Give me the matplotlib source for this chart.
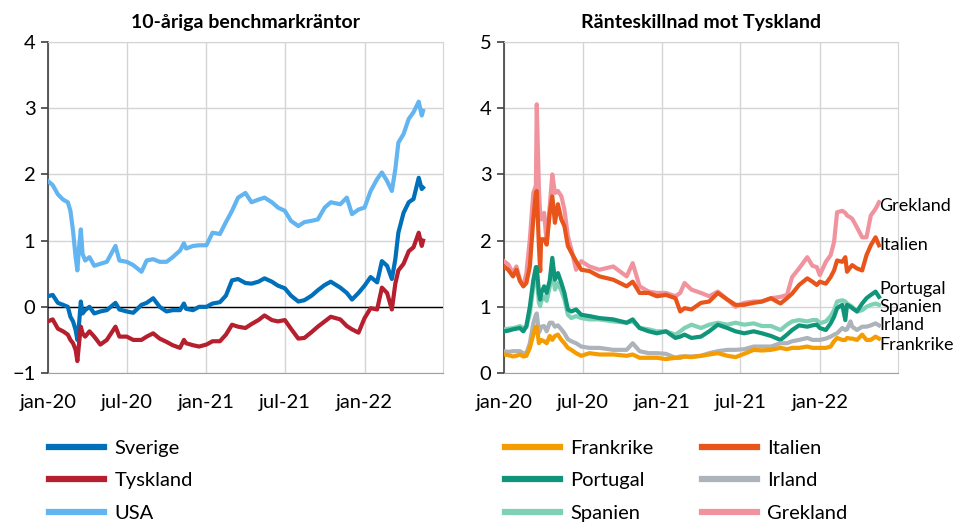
import pandas as pd
import matplotlib
matplotlib.use("Agg")
import matplotlib.pyplot as plt

plt.rcParams['font.family'] = ['Lato', 'DejaVu Sans']

# vänster panel: 10-åriga räntor
left_dates = ['2020-01-01', '2020-01-12', '2020-01-24', '2020-02-05', '2020-02-16', '2020-02-22', '2020-02-28',
              '2020-03-05', '2020-03-09', '2020-03-13', '2020-03-17', '2020-03-21', '2020-03-27', '2020-04-06',
              '2020-04-17', '2020-05-01', '2020-05-16', '2020-06-05', '2020-06-14', '2020-07-01', '2020-07-16',
              '2020-08-04', '2020-08-16', '2020-08-31', '2020-09-15', '2020-10-01', '2020-10-15', '2020-11-01',
              '2020-11-10', '2020-11-15', '2020-12-01', '2020-12-15',
              '2021-01-01', '2021-01-15', '2021-02-01', '2021-02-15', '2021-03-01', '2021-03-15', '2021-04-01',
              '2021-04-15', '2021-05-01', '2021-05-15', '2021-06-01', '2021-06-15', '2021-07-01', '2021-07-15',
              '2021-08-01', '2021-08-15', '2021-09-01', '2021-09-15', '2021-10-01', '2021-10-15', '2021-11-06',
              '2021-11-21', '2021-12-03', '2021-12-18',
              '2022-01-01', '2022-01-15', '2022-01-30', '2022-02-10', '2022-02-22', '2022-03-05', '2022-03-13',
              '2022-03-20', '2022-04-01', '2022-04-13', '2022-04-24', '2022-05-06', '2022-05-13', '2022-05-16']

usa = [1.90, 1.84, 1.70, 1.62, 1.58, 1.45, 1.15, 0.75, 0.55, 0.90, 1.17, 0.80, 0.70, 0.75, 0.62, 0.65,
       0.68, 0.92, 0.70, 0.68, 0.63, 0.53, 0.70, 0.72, 0.68, 0.68, 0.75, 0.85, 0.96, 0.88, 0.92, 0.93,
       0.93, 1.12, 1.10, 1.28, 1.45, 1.65, 1.72, 1.58, 1.62, 1.65, 1.58, 1.50, 1.45, 1.30, 1.22, 1.28,
       1.30, 1.32, 1.50, 1.58, 1.55, 1.65, 1.40, 1.47,
       1.50, 1.75, 1.93, 2.03, 1.90, 1.75, 2.08, 2.48, 2.61, 2.84, 2.94, 3.10, 2.89, 2.96]
sverige = [0.16, 0.18, 0.06, 0.03, 0.00, -0.15, -0.22, -0.35, -0.50, -0.25, 0.08, -0.10, -0.05, 0.00,
           -0.10, -0.07, -0.05, 0.06, -0.04, -0.07, -0.09, 0.03, 0.06, 0.13, 0.00, -0.07, -0.05, -0.05,
           0.05, -0.03, -0.05, 0.00,
           0.00, 0.05, 0.07, 0.17, 0.40, 0.42, 0.36, 0.35, 0.38, 0.43, 0.38, 0.32, 0.28, 0.17, 0.08, 0.10,
           0.17, 0.25, 0.33, 0.38, 0.29, 0.21, 0.11, 0.21,
           0.32, 0.45, 0.37, 0.69, 0.62, 0.42, 0.72, 1.12, 1.42, 1.58, 1.63, 1.95, 1.78, 1.80]
tyskland = [-0.22, -0.19, -0.33, -0.37, -0.42, -0.50, -0.55, -0.65, -0.82, -0.55, -0.30, -0.40, -0.45,
            -0.37, -0.45, -0.57, -0.50, -0.30, -0.45, -0.45, -0.50, -0.50, -0.45, -0.40, -0.48, -0.53,
            -0.58, -0.62, -0.50, -0.55, -0.58, -0.60,
            -0.57, -0.52, -0.52, -0.42, -0.27, -0.30, -0.32, -0.26, -0.20, -0.13, -0.20, -0.22, -0.20,
            -0.33, -0.48, -0.47, -0.38, -0.30, -0.22, -0.15, -0.19, -0.29, -0.34, -0.39,
            -0.17, -0.02, -0.04, 0.29, 0.21, -0.04, 0.35, 0.55, 0.65, 0.84, 0.90, 1.12, 0.92, 1.00]

# höger panel: ränteskillnad mot Tyskland
right_dates = ['2020-01-01', '2020-01-11', '2020-01-22', '2020-01-30', '2020-02-07', '2020-02-15', '2020-02-22',
               '2020-03-01', '2020-03-09', '2020-03-15', '2020-03-17', '2020-03-22', '2020-03-25', '2020-03-27',
               '2020-04-03', '2020-04-09', '2020-04-16', '2020-04-22', '2020-04-28', '2020-05-05', '2020-05-13',
               '2020-05-20', '2020-05-28', '2020-06-05', '2020-06-16', '2020-06-28', '2020-07-17', '2020-08-09',
               '2020-09-10', '2020-10-11', '2020-10-25', '2020-11-10', '2020-12-01', '2020-12-20',
               '2021-01-10', '2021-02-01', '2021-02-12', '2021-02-22', '2021-03-10', '2021-04-01', '2021-04-20',
               '2021-05-10', '2021-06-01', '2021-06-20', '2021-07-10', '2021-08-01', '2021-08-20', '2021-09-10',
               '2021-10-02', '2021-10-17', '2021-10-29', '2021-11-14', '2021-12-03', '2021-12-15', '2021-12-25',
               '2022-01-01', '2022-01-15', '2022-01-26', '2022-02-03', '2022-02-10', '2022-02-22', '2022-03-01',
               '2022-03-05', '2022-03-13', '2022-03-17', '2022-03-28', '2022-04-09', '2022-04-19', '2022-04-29',
               '2022-05-10', '2022-05-18']

grekland = [1.69, 1.64, 1.51, 1.61, 1.41, 1.31, 1.51, 2.02, 2.72, 2.83, 4.06, 2.78, 2.40, 2.32, 2.42,
            1.97, 2.52, 3.00, 2.72, 2.75, 2.67, 2.47, 2.07, 1.87, 1.56, 1.69, 1.61, 1.56, 1.61,
            1.46, 1.66, 1.31, 1.23, 1.21,
            1.21, 1.16, 1.21, 1.36, 1.26, 1.21, 1.16, 1.23, 1.11, 1.00, 1.06, 1.08, 1.08, 1.13, 1.15, 1.18,
            1.45, 1.58, 1.75, 1.62, 1.60,
            1.48, 1.68, 1.78, 1.98, 2.43, 2.45, 2.42, 2.38, 2.35, 2.33, 2.20, 2.05, 2.05, 2.38, 2.48, 2.58]
italien = [1.61, 1.56, 1.46, 1.56, 1.39, 1.31, 1.36, 1.61, 2.32, 2.72, 2.75, 1.92, 1.54, 2.02, 2.02,
           1.94, 2.42, 2.67, 2.27, 2.55, 2.32, 2.22, 1.92, 1.82, 1.69, 1.56, 1.54, 1.46, 1.41,
           1.31, 1.38, 1.21, 1.21, 1.16,
           1.18, 1.13, 0.93, 0.98, 0.96, 1.06, 1.08, 1.21, 1.11, 1.03, 1.03, 1.06, 1.08, 1.13, 1.05, 1.13,
           1.20, 1.33, 1.43, 1.38, 1.33,
           1.38, 1.35, 1.45, 1.55, 1.70, 1.68, 1.75, 1.53, 1.60, 1.63, 1.58, 1.55, 1.78, 1.93, 2.05, 1.93]
portugal = [0.63, 0.64, 0.66, 0.67, 0.68, 0.63, 0.71, 1.00, 1.40, 1.60, 1.60, 1.21, 1.11, 1.20, 1.31,
            1.21, 1.40, 1.74, 1.41, 1.51, 1.36, 1.21, 0.96, 0.93, 0.96, 0.88, 0.86, 0.83, 0.81,
            0.76, 0.81, 0.68, 0.63, 0.60,
            0.63, 0.53, 0.55, 0.58, 0.53, 0.55, 0.63, 0.73, 0.68, 0.63, 0.60, 0.63, 0.60, 0.56, 0.50, 0.58,
            0.65, 0.72, 0.70, 0.72, 0.73,
            0.68, 0.65, 0.75, 0.85, 0.98, 1.03, 0.80, 1.03, 1.00, 0.98, 0.93, 1.05, 1.13, 1.18, 1.23, 1.15]
spanien = [0.66, 0.67, 0.68, 0.69, 0.71, 0.68, 0.69, 0.90, 1.30, 1.50, 1.45, 1.06, 1.01, 1.08, 1.16,
           1.09, 1.30, 1.56, 1.26, 1.36, 1.24, 1.11, 0.88, 0.83, 0.86, 0.83, 0.81, 0.81, 0.78,
           0.76, 0.78, 0.68, 0.66, 0.63,
           0.63, 0.58, 0.63, 0.68, 0.73, 0.68, 0.73, 0.76, 0.73, 0.76, 0.73, 0.75, 0.71, 0.71, 0.65, 0.73,
           0.78, 0.80, 0.78, 0.80, 0.80,
           0.75, 0.78, 0.86, 0.95, 1.08, 1.10, 1.08, 1.05, 1.02, 1.00, 0.93, 0.95, 1.00, 1.03, 1.05, 1.03]
irland = [0.33, 0.32, 0.33, 0.33, 0.33, 0.30, 0.30, 0.45, 0.75, 0.88, 0.90, 0.61, 0.65, 0.70, 0.71,
          0.63, 0.76, 0.76, 0.70, 0.72, 0.66, 0.60, 0.51, 0.48, 0.45, 0.40, 0.38, 0.38, 0.35,
          0.35, 0.45, 0.33, 0.30, 0.30,
          0.29, 0.23, 0.25, 0.25, 0.25, 0.26, 0.30, 0.33, 0.35, 0.35, 0.36, 0.40, 0.40, 0.40, 0.45, 0.45,
          0.48, 0.50, 0.53, 0.50, 0.50,
          0.50, 0.52, 0.55, 0.58, 0.60, 0.68, 0.65, 0.66, 0.78, 0.70, 0.65, 0.70, 0.70, 0.72, 0.75, 0.72]
frankrike = [0.28, 0.27, 0.25, 0.26, 0.28, 0.25, 0.26, 0.38, 0.58, 0.70, 0.70, 0.45, 0.48, 0.50, 0.48,
             0.45, 0.56, 0.50, 0.56, 0.58, 0.50, 0.45, 0.38, 0.35, 0.30, 0.26, 0.30, 0.28, 0.28,
             0.26, 0.28, 0.23, 0.23, 0.23,
             0.21, 0.23, 0.23, 0.25, 0.24, 0.26, 0.28, 0.30, 0.26, 0.24, 0.29, 0.35, 0.34, 0.35, 0.38, 0.36,
             0.38, 0.38, 0.40, 0.38, 0.38,
             0.38, 0.38, 0.40, 0.48, 0.53, 0.50, 0.50, 0.53, 0.52, 0.52, 0.50, 0.58, 0.50, 0.50, 0.55, 0.52]

tick_dates = ['2020-01-01', '2020-07-01', '2021-01-01', '2021-07-01', '2022-01-01']
tick_labels = ['jan-20', 'jul-20', 'jan-21', 'jul-21', 'jan-22']

end_labels = ['Grekland', 'Italien', 'Portugal', 'Spanien', 'Irland', 'Frankrike']
end_label_y = [2.52, 1.93, 1.27, 0.99, 0.72, 0.43]

ld = pd.to_datetime(left_dates)
rd = pd.to_datetime(right_dates)
td = pd.to_datetime(tick_dates)

fig = plt.figure(figsize=(9.58, 5.22), dpi=100)
ax1 = fig.add_axes([0.050, 0.2854, 0.4124, 0.634])
ax2 = fig.add_axes([0.526, 0.2854, 0.4114, 0.634])

lw = 3.0
l_sve, = ax1.plot(ld, sverige, color='#0070BA', lw=lw, label='Sverige', zorder=4)
l_tys, = ax1.plot(ld, tyskland, color='#B51F2E', lw=lw, label='Tyskland', zorder=4)
l_usa, = ax1.plot(ld, usa, color='#62B5F0', lw=lw, label='USA', zorder=4)
ax1.axhline(0, color='black', lw=1, zorder=3)

l_gre, = ax2.plot(rd, grekland, color='#F0939E', lw=lw, label='Grekland', zorder=4)
l_ita, = ax2.plot(rd, italien, color='#E8541A', lw=lw, label='Italien', zorder=4)
l_spa, = ax2.plot(rd, spanien, color='#7ED1B5', lw=lw, label='Spanien', zorder=4)
l_por, = ax2.plot(rd, portugal, color='#10957A', lw=lw, label='Portugal', zorder=4)
l_irl, = ax2.plot(rd, irland, color='#ADB3BA', lw=lw, label='Irland', zorder=4)
l_fra, = ax2.plot(rd, frankrike, color='#F49C00', lw=lw, label='Frankrike', zorder=4)

for ax in (ax1, ax2):
    ax.set_xlim(pd.Timestamp('2020-01-01'), pd.Timestamp('2022-07-01'))
    ax.set_xticks(td)
    ax.set_xticklabels(tick_labels)
    ax.grid(True, color='#D4D4D4', lw=1)
    ax.set_axisbelow(True)
    ax.tick_params(axis='x', length=0, pad=15, labelsize=14.5)
    ax.tick_params(axis='y', length=5, width=1.2, color='#404040', pad=4, labelsize=14.5)
    for s in ('top', 'right'):
        ax.spines[s].set_color('#D4D4D4')
    ax.spines['bottom'].set_color('#A0A0A0')
    ax.spines['left'].set_color('#404040')
    ax.spines['left'].set_linewidth(1.2)

ax1.set_ylim(-1, 4)
ax1.set_yticks([-1, 0, 1, 2, 3, 4])
ax2.set_ylim(0, 5)
ax2.set_yticks([0, 1, 2, 3, 4, 5])

ax1.set_title('10-åriga benchmarkräntor', fontsize=14, fontweight='bold', pad=10)
ax2.set_title('Ränteskillnad mot Tyskland', fontsize=14, fontweight='bold', pad=10)

for name, y in zip(end_labels, end_label_y):
    ax2.text(0.952, y, name, transform=ax2.get_yaxis_transform(), fontsize=13,
             va='center', ha='left', clip_on=False)

leg_kw = dict(frameon=False, fontsize=14.5, handlelength=2.75, handletextpad=0.5,
              labelspacing=0.78, borderpad=0, borderaxespad=0)
leg1 = fig.legend(handles=[l_sve, l_tys, l_usa], loc='upper left',
                  bbox_to_anchor=(0.051, 0.158), **leg_kw)
leg2 = fig.legend(handles=[l_fra, l_por, l_spa, l_ita, l_irl, l_gre], loc='upper left', ncol=2,
                  bbox_to_anchor=(0.527, 0.158), columnspacing=2.4, **leg_kw)
for leg in (leg1, leg2):
    for h in leg.get_lines():
        h.set_linewidth(4.5)

fig.savefig('out.png', dpi=100)
